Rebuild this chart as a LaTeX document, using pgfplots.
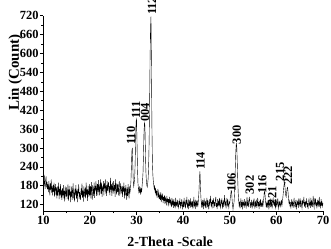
\documentclass[border=0pt]{standalone}
\usepackage{fontspec}
\setmainfont{Liberation Serif}
\usepackage{pgfplots}
\usepackage{pgfplotstable}
\pgfplotsset{compat=1.18}
\pgfplotstableread[row sep=\\]{
y\\
205\\178\\215\\186\\170\\198\\210\\175\\192\\168\\
185\\160\\195\\172\\150\\188\\166\\200\\158\\178\\
150\\182\\160\\190\\145\\172\\185\\152\\175\\140\\
178\\148\\165\\190\\138\\170\\152\\185\\142\\168\\
135\\172\\150\\182\\140\\165\\130\\178\\155\\145\\
175\\138\\160\\185\\132\\168\\150\\180\\128\\162\\
145\\178\\135\\165\\188\\140\\158\\130\\172\\150\\
182\\140\\165\\128\\170\\155\\185\\138\\160\\148\\
135\\172\\150\\188\\142\\165\\130\\178\\160\\145\\
175\\140\\190\\152\\168\\132\\180\\158\\145\\185\\
150\\178\\140\\192\\160\\135\\182\\165\\148\\190\\
142\\180\\165\\195\\148\\172\\185\\150\\198\\160\\
185\\150\\175\\200\\155\\190\\145\\178\\168\\195\\
150\\188\\172\\200\\155\\182\\148\\195\\165\\178\\
192\\158\\180\\150\\205\\168\\185\\148\\190\\170\\
155\\195\\165\\182\\145\\200\\170\\152\\188\\160\\
185\\150\\178\\195\\148\\170\\188\\155\\165\\180\\
145\\178\\160\\190\\140\\172\\150\\182\\158\\135\\
175\\148\\185\\155\\140\\178\\160\\170\\195\\240\\
290\\300\\245\\195\\178\\190\\205\\250\\330\\385\\
392\\320\\240\\190\\172\\160\\178\\158\\170\\152\\
172\\160\\182\\198\\225\\285\\350\\380\\372\\295\\
228\\198\\182\\176\\188\\205\\248\\320\\440\\580\\
680\\718\\560\\370\\260\\215\\195\\182\\170\\178\\
160\\172\\150\\165\\142\\158\\170\\145\\155\\138\\
152\\135\\160\\128\\148\\140\\155\\125\\145\\132\\
150\\122\\142\\135\\118\\148\\128\\140\\115\\138\\
125\\145\\118\\135\\128\\112\\142\\122\\130\\110\\
138\\115\\130\\108\\142\\120\\126\\112\\135\\118\\
110\\132\\120\\140\\108\\128\\115\\138\\122\\105\\
130\\112\\142\\118\\125\\108\\135\\120\\145\\115\\
122\\105\\138\\116\\128\\110\\140\\118\\126\\112\\
132\\108\\120\\145\\115\\125\\106\\136\\118\\128\\
112\\130\\120\\140\\165\\205\\226\\190\\145\\125\\
110\\135\\118\\128\\106\\140\\122\\115\\132\\108\\
125\\142\\112\\130\\118\\105\\138\\120\\128\\148\\
115\\128\\108\\135\\122\\140\\110\\126\\118\\132\\
145\\112\\125\\106\\138\\120\\130\\115\\142\\118\\
110\\132\\125\\140\\108\\120\\135\\112\\128\\150\\
118\\130\\108\\125\\142\\115\\136\\120\\110\\128\\
125\\140\\150\\165\\162\\135\\118\\105\\120\\125\\
150\\190\\245\\290\\316\\305\\260\\205\\160\\135\\
118\\130\\108\\125\\140\\112\\128\\105\\135\\120\\
126\\110\\138\\118\\130\\108\\122\\145\\115\\128\\
112\\132\\145\\128\\110\\125\\118\\135\\108\\122\\
130\\115\\140\\120\\108\\128\\118\\136\\110\\125\\
142\\115\\128\\106\\132\\120\\138\\112\\125\\118\\
130\\112\\128\\140\\160\\162\\145\\128\\115\\125\\
110\\128\\118\\135\\105\\122\\130\\112\\140\\118\\
125\\108\\132\\140\\120\\135\\115\\128\\110\\122\\
130\\112\\125\\140\\118\\108\\132\\120\\128\\115\\
122\\135\\118\\130\\145\\160\\178\\190\\185\\165\\
150\\145\\158\\172\\175\\160\\140\\125\\132\\115\\
128\\108\\122\\138\\115\\130\\110\\125\\142\\118\\
112\\130\\120\\105\\135\\122\\128\\110\\140\\118\\
125\\140\\112\\130\\118\\108\\135\\122\\128\\145\\
115\\128\\110\\132\\120\\140\\112\\125\\106\\130\\
138\\118\\125\\110\\142\\120\\130\\112\\128\\148\\
120\\110\\135\\125\\140\\115\\128\\108\\132\\122\\
130\\112\\145\\118\\125\\108\\138\\120\\128\\115\\
125\\
}\xrd
\begin{document}
\begin{tikzpicture}
\begin{axis}[
  name=ax,
  scale only axis,
  width=279.7bp, height=195.3bp,
  xmin=10, xmax=70, ymin=100, ymax=720,
  axis lines=left,
  axis line style={-, line width=0.7pt},
  tick align=outside,
  major tick length=3.5bp,
  minor tick length=2bp,
  every tick/.style={black, line width=0.7pt},
  xtick={10,20,...,70},
  ytick={120,180,...,720},
  minor x tick num=1,
  minor y tick num=1,
  tick label style={font=\bfseries\fontsize{12.5}{12.5}\selectfont},
  /pgf/number format/assume math mode=true,
  yticklabel style={inner sep=1pt},
  xticklabel style={inner sep=2pt},
  clip=false,
]
\addplot[black, line width=0.4pt] table[x expr={10+0.1*\coordindex}, y=y] {\xrd};
\tikzset{pk/.style={rotate=90, anchor=west, inner sep=0pt, font=\bfseries\fontsize{12.5}{12.5}\selectfont}}
\node[pk] at (axis cs:28.8,310) {110};
\node[pk] at (axis cs:29.9,392) {111};
\node[pk] at (axis cs:31.8,382) {004};
\node[pk] at (axis cs:33.3,722) {112};
\node[pk] at (axis cs:43.7,230) {114};
\node[pk] at (axis cs:50.4,160) {106};
\node[pk] at (axis cs:51.5,312) {300};
\node[pk] at (axis cs:54.3,152) {302};
\node[pk] at (axis cs:57.0,155) {116};
\node[pk] at (axis cs:59.1,118) {221};
\node[pk] at (axis cs:60.8,194) {215};
\node[pk] at (axis cs:62.5,182) {222};
\node[rotate=90, anchor=base, inner sep=0pt, font=\bfseries\fontsize{15}{15}\selectfont] at ([xshift=-24.5bp]rel axis cs:0,0.709) {Lin (Count)};
\node[anchor=base, inner sep=0pt, font=\bfseries\fontsize{14}{14}\selectfont] at ([yshift=-35.5bp]axis cs:37.2,100) {2-Theta -Scale};
\end{axis}
\pgfresetboundingbox
\path[use as bounding box] ([xshift=-43.3bp,yshift=-38bp]ax.south west) rectangle ([xshift=287.7bp,yshift=211bp]ax.south west);
\end{tikzpicture}
\end{document}
